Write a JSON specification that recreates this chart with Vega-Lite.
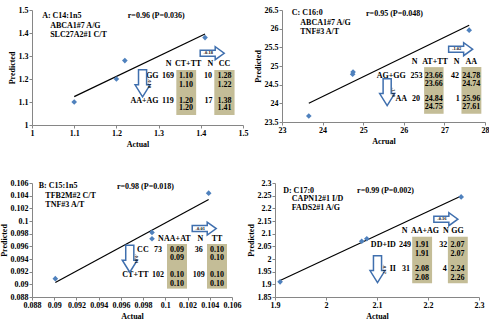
{
  "$schema": "https://vega.github.io/schema/vega-lite/v6.json",
  "padding": {"left": 0, "top": 6, "right": 0, "bottom": 0},
  "config": {
    "view": {"stroke": null},
    "axis": {"grid": false, "labelFont": "Liberation Serif", "labelFontWeight": "bold", "labelFontSize": 8, "labelColor": "#000000", "titleFont": "Liberation Serif", "titleFontWeight": "bold", "titleFontSize": 8, "titleColor": "#000000", "domainColor": "#868686", "tickColor": "#868686", "tickSize": 3, "labelPadding": 1, "labelOverlap": false, "labelFlush": false, "labelBound": false},
    "axisX": {"titlePadding": 3},
    "axisY": {"titlePadding": 2},
    "text": {"font": "Liberation Serif", "fontWeight": "bold", "fontSize": 8, "color": "#000000", "fill": "#000000"}
  },
  "datasets": {
    "A": [
      {"kind": "obs", "x": 1.10, "y": 1.10}, {"kind": "obs", "x": 1.20, "y": 1.20}, {"kind": "obs", "x": 1.22, "y": 1.28}, {"kind": "obs", "x": 1.41, "y": 1.38},
      {"kind": "fit", "x": 1.10, "y": 1.1235}, {"kind": "fit", "x": 1.41, "y": 1.396},
      {"kind": "cell", "x": 1.342, "x2": 1.389, "y": 1.043, "y2": 1.239}, {"kind": "cell", "x": 1.432, "x2": 1.480, "y": 1.043, "y2": 1.239},
      {"kind": "tl", "x": 1.024, "y": 1.475, "label": "A: C14:1n5"},
      {"kind": "tl", "x": 1.043, "y": 1.432, "label": "ABCA1#7 A/G"},
      {"kind": "tl", "x": 1.043, "y": 1.391, "label": "SLC27A2#1 C/T"},
      {"kind": "tl", "x": 1.227, "y": 1.475, "label": "r=0.96 (P=0.036)"},
      {"kind": "tc", "x": 1.324, "y": 1.264, "label": "N"}, {"kind": "tc", "x": 1.370, "y": 1.264, "label": "CT+TT"}, {"kind": "tc", "x": 1.423, "y": 1.264, "label": "N"}, {"kind": "tc", "x": 1.456, "y": 1.264, "label": "CC"},
      {"kind": "tc", "x": 1.322, "y": 1.213, "label": "169"}, {"kind": "tc", "x": 1.365, "y": 1.213, "label": "1.10"}, {"kind": "tc", "x": 1.417, "y": 1.213, "label": "10"}, {"kind": "tc", "x": 1.456, "y": 1.213, "label": "1.28"},
      {"kind": "tc", "x": 1.365, "y": 1.174, "label": "1.10"}, {"kind": "tc", "x": 1.456, "y": 1.174, "label": "1.22"},
      {"kind": "tc", "x": 1.322, "y": 1.106, "label": "119"}, {"kind": "tc", "x": 1.365, "y": 1.106, "label": "1.20"}, {"kind": "tc", "x": 1.418, "y": 1.106, "label": "17"}, {"kind": "tc", "x": 1.456, "y": 1.106, "label": "1.38"},
      {"kind": "tc", "x": 1.365, "y": 1.072, "label": "1.20"}, {"kind": "tc", "x": 1.456, "y": 1.072, "label": "1.41"},
      {"kind": "tr", "x": 1.300, "y": 1.213, "label": "GG"}, {"kind": "tr", "x": 1.300, "y": 1.106, "label": "AA+AG"},
      {"kind": "ar", "x": 1.427, "y": 1.312, "label": "-0.18"},
      {"kind": "ad", "x": 1.262, "y": 1.181, "label": "-0.10"}
    ],
    "C": [
      {"kind": "obs", "x": 23.66, "y": 23.66}, {"kind": "obs", "x": 24.74, "y": 24.78}, {"kind": "obs", "x": 24.75, "y": 24.84}, {"kind": "obs", "x": 27.61, "y": 25.96},
      {"kind": "fit", "x": 23.66, "y": 24.00}, {"kind": "fit", "x": 27.61, "y": 26.09},
      {"kind": "cell", "x": 26.50, "x2": 26.98, "y": 23.72, "y2": 24.97}, {"kind": "cell", "x": 27.42, "x2": 27.91, "y": 23.72, "y2": 24.97},
      {"kind": "tl", "x": 23.24, "y": 26.41, "label": "C: C16:0"},
      {"kind": "tl", "x": 23.45, "y": 26.15, "label": "ABCA1#7 A/G"},
      {"kind": "tl", "x": 23.45, "y": 25.90, "label": "TNF#3 A/T"},
      {"kind": "tl", "x": 25.07, "y": 26.39, "label": "r=0.95 (P=0.048)"},
      {"kind": "tc", "x": 26.27, "y": 25.12, "label": "N"}, {"kind": "tc", "x": 26.77, "y": 25.12, "label": "AT+TT"}, {"kind": "tc", "x": 27.30, "y": 25.12, "label": "N"}, {"kind": "tc", "x": 27.66, "y": 25.12, "label": "AA"},
      {"kind": "tc", "x": 26.31, "y": 24.74, "label": "253"}, {"kind": "tc", "x": 26.74, "y": 24.74, "label": "23.66"}, {"kind": "tc", "x": 27.26, "y": 24.74, "label": "42"}, {"kind": "tc", "x": 27.66, "y": 24.74, "label": "24.78"},
      {"kind": "tc", "x": 26.74, "y": 24.53, "label": "23.66"}, {"kind": "tc", "x": 27.66, "y": 24.53, "label": "24.74"},
      {"kind": "tc", "x": 26.30, "y": 24.11, "label": "20"}, {"kind": "tc", "x": 26.74, "y": 24.11, "label": "24.84"}, {"kind": "tc", "x": 27.33, "y": 24.11, "label": "1"}, {"kind": "tc", "x": 27.66, "y": 24.11, "label": "25.96"},
      {"kind": "tc", "x": 26.74, "y": 23.89, "label": "24.75"}, {"kind": "tc", "x": 27.66, "y": 23.89, "label": "27.61"},
      {"kind": "tr", "x": 26.05, "y": 24.74, "label": "AG+GG"}, {"kind": "tr", "x": 26.08, "y": 24.11, "label": "AA"},
      {"kind": "ar", "x": 27.40, "y": 25.45, "label": "-1.02"},
      {"kind": "ad", "x": 25.59, "y": 24.30, "label": "-1.18"}
    ],
    "B": [
      {"kind": "obs", "x": 0.0901, "y": 0.0909}, {"kind": "obs", "x": 0.0988, "y": 0.0982}, {"kind": "obs", "x": 0.0988, "y": 0.0972}, {"kind": "obs", "x": 0.1039, "y": 0.1044},
      {"kind": "fit", "x": 0.0901, "y": 0.0903}, {"kind": "fit", "x": 0.1039, "y": 0.1034},
      {"kind": "cell", "x": 0.10015, "x2": 0.10195, "y": 0.08932, "y2": 0.09637}, {"kind": "cell", "x": 0.10375, "x2": 0.10555, "y": 0.08932, "y2": 0.09637},
      {"kind": "tl", "x": 0.0886, "y": 0.1056, "label": "B: C15:1n5"},
      {"kind": "tl", "x": 0.0892, "y": 0.1040, "label": "TFB2M#2 C/T"},
      {"kind": "tl", "x": 0.0892, "y": 0.1026, "label": "TNF#3 A/T"},
      {"kind": "tl", "x": 0.09565, "y": 0.10537, "label": "r=0.98 (P=0.018)"},
      {"kind": "tr", "x": 0.09850, "y": 0.09541, "label": "CC"},
      {"kind": "tr", "x": 0.09850, "y": 0.09144, "label": "CT+TT"},
      {"kind": "tc", "x": 0.09961, "y": 0.09716, "label": "N"}, {"kind": "tc", "x": 0.10108, "y": 0.09716, "label": "AA+AT"}, {"kind": "tc", "x": 0.10315, "y": 0.09716, "label": "N"}, {"kind": "tc", "x": 0.10465, "y": 0.09716, "label": "TT"},
      {"kind": "tc", "x": 0.09935, "y": 0.09541, "label": "73"}, {"kind": "tc", "x": 0.10105, "y": 0.09541, "label": "0.09"}, {"kind": "tc", "x": 0.10300, "y": 0.09541, "label": "36"}, {"kind": "tc", "x": 0.10465, "y": 0.09541, "label": "0.10"},
      {"kind": "tc", "x": 0.10105, "y": 0.09419, "label": "0.09"}, {"kind": "tc", "x": 0.10465, "y": 0.09419, "label": "0.10"},
      {"kind": "tc", "x": 0.09935, "y": 0.09144, "label": "102"}, {"kind": "tc", "x": 0.10105, "y": 0.09144, "label": "0.10"}, {"kind": "tc", "x": 0.10300, "y": 0.09144, "label": "109"}, {"kind": "tc", "x": 0.10465, "y": 0.09144, "label": "0.10"},
      {"kind": "tc", "x": 0.10105, "y": 0.0901, "label": "0.10"}, {"kind": "tc", "x": 0.10465, "y": 0.0901, "label": "0.10"},
      {"kind": "ar", "x": 0.10350, "y": 0.09880, "label": "-0.01"},
      {"kind": "ad", "x": 0.09680, "y": 0.09404, "label": "-0.01"}
    ],
    "D": [
      {"kind": "obs", "x": 1.91, "y": 1.91}, {"kind": "obs", "x": 2.07, "y": 2.07}, {"kind": "obs", "x": 2.08, "y": 2.08}, {"kind": "obs", "x": 2.265, "y": 2.245},
      {"kind": "fit", "x": 1.91, "y": 1.915}, {"kind": "fit", "x": 2.265, "y": 2.249},
      {"kind": "cell", "x": 2.169, "x2": 2.208, "y": 1.904, "y2": 2.088}, {"kind": "cell", "x": 2.239, "x2": 2.278, "y": 1.904, "y2": 2.088},
      {"kind": "tl", "x": 1.916, "y": 2.268, "label": "D: C17:0"},
      {"kind": "tl", "x": 1.933, "y": 2.235, "label": "CAPN12#1 I/D"},
      {"kind": "tl", "x": 1.933, "y": 2.200, "label": "FADS2#1 A/G"},
      {"kind": "tl", "x": 2.061, "y": 2.268, "label": "r=0.99 (P=0.002)"},
      {"kind": "tc", "x": 2.154, "y": 2.11, "label": "N"}, {"kind": "tc", "x": 2.194, "y": 2.11, "label": "AA+AG"}, {"kind": "tc", "x": 2.235, "y": 2.11, "label": "N"}, {"kind": "tc", "x": 2.258, "y": 2.11, "label": "GG"},
      {"kind": "tc", "x": 2.155, "y": 2.057, "label": "249"}, {"kind": "tc", "x": 2.188, "y": 2.057, "label": "1.91"}, {"kind": "tc", "x": 2.230, "y": 2.057, "label": "32"}, {"kind": "tc", "x": 2.258, "y": 2.057, "label": "2.07"},
      {"kind": "tc", "x": 2.188, "y": 2.021, "label": "1.91"}, {"kind": "tc", "x": 2.258, "y": 2.021, "label": "2.07"},
      {"kind": "tc", "x": 2.157, "y": 1.960, "label": "31"}, {"kind": "tc", "x": 2.188, "y": 1.960, "label": "2.08"}, {"kind": "tc", "x": 2.233, "y": 1.960, "label": "4"}, {"kind": "tc", "x": 2.258, "y": 1.960, "label": "2.24"},
      {"kind": "tc", "x": 2.188, "y": 1.926, "label": "2.08"}, {"kind": "tc", "x": 2.258, "y": 1.926, "label": "2.26"},
      {"kind": "tr", "x": 2.137, "y": 2.057, "label": "DD+ID"}, {"kind": "tr", "x": 2.137, "y": 1.960, "label": "II"},
      {"kind": "ar", "x": 2.235, "y": 2.157, "label": "-0.16"},
      {"kind": "ad", "x": 2.101, "y": 1.960, "label": "-0.17"}
    ]
  },
  "spacing": 31,
  "vconcat": [
    {
      "spacing": 6,
      "hconcat": [
        {
          "width": 211, "height": 115,
          "data": {"name": "A"},
          "encoding": {
            "x": {"field": "x", "type": "quantitative", "scale": {"domain": [1, 1.5], "nice": false, "zero": false}, "axis": {"title": "Actual", "values": [1, 1.1, 1.2, 1.3, 1.4, 1.5], "format": ".1~f"}},
            "y": {"field": "y", "type": "quantitative", "scale": {"domain": [1, 1.5], "nice": false, "zero": false}, "axis": {"title": "Predicted", "values": [1, 1.1, 1.2, 1.3, 1.4, 1.5], "format": ".1~f"}}
          },
          "layer": [
            {"transform": [{"filter": "datum.kind==='cell'"}], "mark": {"type": "rect", "fill": "#c4bd97"}, "encoding": {"x2": {"field": "x2"}, "y2": {"field": "y2"}}},
            {"transform": [{"filter": "datum.kind==='fit'"}], "mark": {"type": "line", "color": "#000000", "strokeWidth": 1.2}, "encoding": {}},
            {"transform": [{"filter": "datum.kind==='obs'"}], "mark": {"type": "point", "shape": "diamond", "filled": true, "color": "#4f81bd", "size": 32, "opacity": 1}, "encoding": {}},
            {"transform": [{"filter": "datum.kind==='tl'"}], "mark": {"type": "text", "align": "left"}, "encoding": {"text": {"field": "label"}}},
            {"transform": [{"filter": "datum.kind==='tc'"}], "mark": {"type": "text", "align": "center"}, "encoding": {"text": {"field": "label"}}},
            {"transform": [{"filter": "datum.kind==='tr'"}], "mark": {"type": "text", "align": "right"}, "encoding": {"text": {"field": "label"}}},
            {"transform": [{"filter": "datum.kind==='ar'"}], "mark": {"type": "point", "shape": "M-1,-0.25L0.25,-0.25L0.25,-0.54L1,0L0.25,0.54L0.25,0.25L-1,0.25Z", "size": 576, "fill": "#ffffff", "stroke": "#3f6fae", "strokeWidth": 1.5, "opacity": 1}, "encoding": {}},
            {"transform": [{"filter": "datum.kind==='ar'"}], "mark": {"type": "text", "fontSize": 4.5, "dx": -4}, "encoding": {"text": {"field": "label"}}},
            {"transform": [{"filter": "datum.kind==='ad'"}], "mark": {"type": "point", "shape": "M-0.3,-1L0.3,-1L0.3,0.11L0.555,0.11L0,1L-0.555,0.11L-0.3,0.11Z", "size": 729, "fill": "#ffffff", "stroke": "#3f6fae", "strokeWidth": 1.5, "opacity": 1}, "encoding": {}},
            {"transform": [{"filter": "datum.kind==='ad'"}], "mark": {"type": "text", "fontSize": 4.5, "angle": 90, "dy": -6}, "encoding": {"text": {"field": "label"}}}
          ]
        },
        {
          "width": 203, "height": 112,
          "data": {"name": "C"},
          "encoding": {
            "x": {"field": "x", "type": "quantitative", "scale": {"domain": [23, 28], "nice": false, "zero": false}, "axis": {"title": "Acrual", "values": [23, 24, 25, 26, 27, 28], "format": ".0f"}},
            "y": {"field": "y", "type": "quantitative", "scale": {"domain": [23.5, 26.5], "nice": false, "zero": false}, "axis": {"title": "Predicted", "values": [23.5, 24, 24.5, 25, 25.5, 26, 26.5], "format": ".1~f"}}
          },
          "layer": [
            {"transform": [{"filter": "datum.kind==='cell'"}], "mark": {"type": "rect", "fill": "#c4bd97"}, "encoding": {"x2": {"field": "x2"}, "y2": {"field": "y2"}}},
            {"transform": [{"filter": "datum.kind==='fit'"}], "mark": {"type": "line", "color": "#000000", "strokeWidth": 1.2}, "encoding": {}},
            {"transform": [{"filter": "datum.kind==='obs'"}], "mark": {"type": "point", "shape": "diamond", "filled": true, "color": "#4f81bd", "size": 32, "opacity": 1}, "encoding": {}},
            {"transform": [{"filter": "datum.kind==='tl'"}], "mark": {"type": "text", "align": "left"}, "encoding": {"text": {"field": "label"}}},
            {"transform": [{"filter": "datum.kind==='tc'"}], "mark": {"type": "text", "align": "center"}, "encoding": {"text": {"field": "label"}}},
            {"transform": [{"filter": "datum.kind==='tr'"}], "mark": {"type": "text", "align": "right"}, "encoding": {"text": {"field": "label"}}},
            {"transform": [{"filter": "datum.kind==='ar'"}], "mark": {"type": "point", "shape": "M-1,-0.25L0.25,-0.25L0.25,-0.54L1,0L0.25,0.54L0.25,0.25L-1,0.25Z", "size": 576, "fill": "#ffffff", "stroke": "#3f6fae", "strokeWidth": 1.5, "opacity": 1}, "encoding": {}},
            {"transform": [{"filter": "datum.kind==='ar'"}], "mark": {"type": "text", "fontSize": 4.5, "dx": -4}, "encoding": {"text": {"field": "label"}}},
            {"transform": [{"filter": "datum.kind==='ad'"}], "mark": {"type": "point", "shape": "M-0.3,-1L0.3,-1L0.3,0.11L0.555,0.11L0,1L-0.555,0.11L-0.3,0.11Z", "size": 729, "fill": "#ffffff", "stroke": "#3f6fae", "strokeWidth": 1.5, "opacity": 1}, "encoding": {}},
            {"transform": [{"filter": "datum.kind==='ad'"}], "mark": {"type": "text", "fontSize": 4.5, "angle": 90, "dy": -6}, "encoding": {"text": {"field": "label"}}}
          ]
        }
      ]
    },
    {
      "spacing": 6,
      "hconcat": [
        {
          "width": 200, "height": 114,
          "data": {"name": "B"},
          "encoding": {
            "x": {"field": "x", "type": "quantitative", "scale": {"domain": [0.088, 0.106], "nice": false, "zero": false}, "axis": {"title": "Actual", "values": [0.088, 0.09, 0.092, 0.094, 0.096, 0.098, 0.1, 0.102, 0.104, 0.106], "format": ".3~f"}},
            "y": {"field": "y", "type": "quantitative", "scale": {"domain": [0.088, 0.106], "nice": false, "zero": false}, "axis": {"title": "Predicted", "values": [0.088, 0.09, 0.092, 0.094, 0.096, 0.098, 0.1, 0.102, 0.104, 0.106], "format": ".3~f"}}
          },
          "layer": [
            {"transform": [{"filter": "datum.kind==='cell'"}], "mark": {"type": "rect", "fill": "#c4bd97"}, "encoding": {"x2": {"field": "x2"}, "y2": {"field": "y2"}}},
            {"transform": [{"filter": "datum.kind==='fit'"}], "mark": {"type": "line", "color": "#000000", "strokeWidth": 1.2}, "encoding": {}},
            {"transform": [{"filter": "datum.kind==='obs'"}], "mark": {"type": "point", "shape": "diamond", "filled": true, "color": "#4f81bd", "size": 32, "opacity": 1}, "encoding": {}},
            {"transform": [{"filter": "datum.kind==='tl'"}], "mark": {"type": "text", "align": "left"}, "encoding": {"text": {"field": "label"}}},
            {"transform": [{"filter": "datum.kind==='tc'"}], "mark": {"type": "text", "align": "center"}, "encoding": {"text": {"field": "label"}}},
            {"transform": [{"filter": "datum.kind==='tr'"}], "mark": {"type": "text", "align": "right"}, "encoding": {"text": {"field": "label"}}},
            {"transform": [{"filter": "datum.kind==='ar'"}], "mark": {"type": "point", "shape": "M-1,-0.25L0.25,-0.25L0.25,-0.54L1,0L0.25,0.54L0.25,0.25L-1,0.25Z", "size": 576, "fill": "#ffffff", "stroke": "#3f6fae", "strokeWidth": 1.5, "opacity": 1}, "encoding": {}},
            {"transform": [{"filter": "datum.kind==='ar'"}], "mark": {"type": "text", "fontSize": 4.5, "dx": -4}, "encoding": {"text": {"field": "label"}}},
            {"transform": [{"filter": "datum.kind==='ad'"}], "mark": {"type": "point", "shape": "M-0.3,-1L0.3,-1L0.3,0.11L0.555,0.11L0,1L-0.555,0.11L-0.3,0.11Z", "size": 729, "fill": "#ffffff", "stroke": "#3f6fae", "strokeWidth": 1.5, "opacity": 1}, "encoding": {}},
            {"transform": [{"filter": "datum.kind==='ad'"}], "mark": {"type": "text", "fontSize": 4.5, "angle": 90, "dy": -6}, "encoding": {"text": {"field": "label"}}}
          ]
        },
        {
          "width": 204, "height": 114,
          "data": {"name": "D"},
          "encoding": {
            "x": {"field": "x", "type": "quantitative", "scale": {"domain": [1.9, 2.3], "nice": false, "zero": false}, "axis": {"title": "Actual", "values": [1.9, 2, 2.1, 2.2, 2.3], "format": ".1~f"}},
            "y": {"field": "y", "type": "quantitative", "scale": {"domain": [1.85, 2.3], "nice": false, "zero": false}, "axis": {"title": "Predicted", "values": [1.85, 1.9, 1.95, 2, 2.05, 2.1, 2.15, 2.2, 2.25, 2.3], "format": ".2~f"}}
          },
          "layer": [
            {"transform": [{"filter": "datum.kind==='cell'"}], "mark": {"type": "rect", "fill": "#c4bd97"}, "encoding": {"x2": {"field": "x2"}, "y2": {"field": "y2"}}},
            {"transform": [{"filter": "datum.kind==='fit'"}], "mark": {"type": "line", "color": "#000000", "strokeWidth": 1.2}, "encoding": {}},
            {"transform": [{"filter": "datum.kind==='obs'"}], "mark": {"type": "point", "shape": "diamond", "filled": true, "color": "#4f81bd", "size": 32, "opacity": 1}, "encoding": {}},
            {"transform": [{"filter": "datum.kind==='tl'"}], "mark": {"type": "text", "align": "left"}, "encoding": {"text": {"field": "label"}}},
            {"transform": [{"filter": "datum.kind==='tc'"}], "mark": {"type": "text", "align": "center"}, "encoding": {"text": {"field": "label"}}},
            {"transform": [{"filter": "datum.kind==='tr'"}], "mark": {"type": "text", "align": "right"}, "encoding": {"text": {"field": "label"}}},
            {"transform": [{"filter": "datum.kind==='ar'"}], "mark": {"type": "point", "shape": "M-1,-0.25L0.25,-0.25L0.25,-0.54L1,0L0.25,0.54L0.25,0.25L-1,0.25Z", "size": 576, "fill": "#ffffff", "stroke": "#3f6fae", "strokeWidth": 1.5, "opacity": 1}, "encoding": {}},
            {"transform": [{"filter": "datum.kind==='ar'"}], "mark": {"type": "text", "fontSize": 4.5, "dx": -4}, "encoding": {"text": {"field": "label"}}},
            {"transform": [{"filter": "datum.kind==='ad'"}], "mark": {"type": "point", "shape": "M-0.3,-1L0.3,-1L0.3,0.11L0.555,0.11L0,1L-0.555,0.11L-0.3,0.11Z", "size": 729, "fill": "#ffffff", "stroke": "#3f6fae", "strokeWidth": 1.5, "opacity": 1}, "encoding": {}},
            {"transform": [{"filter": "datum.kind==='ad'"}], "mark": {"type": "text", "fontSize": 4.5, "angle": 90, "dy": -6}, "encoding": {"text": {"field": "label"}}}
          ]
        }
      ]
    }
  ]
}
